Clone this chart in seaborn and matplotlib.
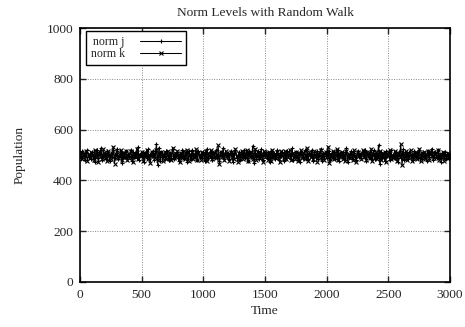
import numpy as np
import pandas as pd
import matplotlib
matplotlib.use("Agg")
import matplotlib.pyplot as plt
import seaborn as sns

time_step = 10
norm_j = [503, 488, 515, 496, 479, 508, 521, 492, 500, 484,
          511, 497, 473, 506, 519, 490, 502, 527, 481, 495,
          509, 486, 514, 499, 476, 505, 493, 518, 488, 501,
          524, 483, 497, 510, 470, 507, 492, 516, 485, 503,
          498, 520, 478, 512, 494, 506, 487, 531, 480, 501,
          496, 513, 474, 509, 491, 522, 485, 504, 497, 517,
          482, 506, 544, 461, 529, 476, 511, 493, 503, 486,
          515, 498, 479, 508, 490, 523, 484, 502, 496, 512,
          477, 505, 494, 519, 488, 501, 509, 472, 514, 497,
          485, 521, 499, 491, 507, 480, 516, 495, 503, 488,
          510, 476, 502, 525, 487, 498, 513, 482, 506, 494,
          519, 489, 500, 478, 511, 496, 527, 483, 504, 492,
          508, 486, 515, 499, 473, 506, 520, 490, 497, 512,
          481, 503, 495, 518, 487, 509, 476, 514, 500, 491,
          536, 468, 507, 494, 516, 485, 501, 522, 479, 505,
          496, 510, 488, 503, 474, 517, 493, 508, 484, 499,
          521, 482, 506, 497, 512, 477, 502, 489, 515, 495,
          504, 486, 526, 480, 498, 511, 492, 507, 471, 513,
          500, 487, 518, 494, 505, 483, 509, 497, 520, 478,
          503, 491, 514, 485, 499, 524, 476, 508, 495, 511,
          488, 502, 517, 481, 506, 493, 510, 484, 500, 519,
          475, 507, 496, 513, 489, 504, 528, 472, 501, 492,
          515, 486, 509, 498, 480, 516, 494, 503, 487, 512,
          497, 521, 478, 505, 491, 510, 483, 499, 518, 485,
          506, 494, 540, 464, 512, 489, 502, 476, 514, 496,
          508, 482, 519, 493, 501, 487, 511, 498, 474, 517,
          490, 505, 523, 481, 497, 509, 486, 513, 495, 502,
          479, 516, 492, 507, 488, 520, 500, 484, 511, 496,
          503, 477, 514, 491, 506, 525, 482, 499, 510, 487,
          518, 494, 501, 473, 508, 497, 512, 485, 504, 490,
          500]
norm_k = [492, 510, 483, 506, 498, 517, 476, 502, 489, 513,
          501, 480, 519, 494, 507, 471, 511, 496, 485, 522,
          490, 504, 477, 515, 499, 486, 509, 532, 466, 503,
          512, 488, 497, 520, 479, 506, 493, 514, 482, 500,
          487, 516, 495, 474, 508, 491, 523, 484, 502, 498,
          511, 478, 505, 493, 518, 486, 500, 470, 513, 496,
          504, 489, 521, 481, 507, 495, 512, 476, 499, 510,
          485, 517, 492, 503, 480, 526, 488, 506, 494, 515,
          498, 473, 509, 490, 514, 483, 502, 519, 477, 505,
          493, 511, 486, 500, 524, 479, 507, 496, 482, 513,
          502, 489, 516, 475, 508, 494, 520, 484, 499, 510,
          487, 503, 538, 463, 512, 491, 505, 480, 517, 495,
          500, 478, 511, 493, 506, 485, 522, 497, 472, 509,
          490, 515, 483, 504, 498, 519, 476, 507, 492, 512,
          486, 501, 525, 481, 496, 510, 488, 503, 474, 516,
          494, 508, 482, 513, 499, 477, 520, 491, 505, 487,
          511, 496, 471, 514, 502, 489, 517, 484, 507, 493,
          521, 480, 500, 509, 486, 512, 495, 476, 504, 518,
          490, 506, 483, 497, 527, 478, 510, 492, 501, 485,
          514, 498, 474, 508, 494, 519, 487, 503, 481, 511,
          496, 533, 467, 505, 490, 515, 484, 500, 522, 479,
          507, 493, 512, 486, 499, 475, 516, 491, 504, 488,
          509, 482, 518, 497, 473, 511, 495, 502, 485, 520,
          492, 506, 480, 513, 498, 487, 524, 477, 503, 494,
          510, 485, 500, 517, 479, 505, 491, 512, 474, 508,
          496, 521, 483, 501, 489, 514, 497, 476, 509, 493,
          542, 460, 506, 488, 515, 481, 502, 494, 519, 478,
          504, 490, 511, 486, 498, 523, 475, 507, 492, 513,
          484, 500, 516, 479, 508, 495, 510, 487, 503, 497,
          518, 482, 505, 491, 512, 476, 501, 494, 509, 488,
          499]
time = [i * time_step for i in range(len(norm_j))]
x_ticks = [0, 500, 1000, 1500, 2000, 2500, 3000]
y_ticks = [0, 200, 400, 600, 800, 1000]

sns.set_style("ticks")
plt.rcParams['font.family'] = ['Liberation Serif', 'DejaVu Serif']

fig = plt.figure(figsize=(4.65, 3.27), dpi=100)
ax = fig.add_axes([0.172, 0.138, 0.796, 0.776])

df_j = pd.DataFrame({"Time": time, "Population": norm_j})
df_k = pd.DataFrame({"Time": time, "Population": norm_k})
sns.lineplot(data=df_j, x="Time", y="Population", ax=ax, color="black",
             linewidth=0.75, marker="+", markersize=3.5, markeredgewidth=0.8,
             markeredgecolor="black", label="norm j")
sns.lineplot(data=df_k, x="Time", y="Population", ax=ax, color="black",
             linewidth=0.75, marker="x", markersize=2.8, markeredgewidth=0.8,
             markeredgecolor="black", label="norm k")

ax.set_xlim(0, 3000)
ax.set_ylim(0, 1000)
ax.set_xticks(x_ticks)
ax.set_yticks(y_ticks)
ax.grid(True, linestyle=(0, (1, 1.5)), color="#888888", linewidth=0.7)
ax.tick_params(direction="in", top=True, right=True, length=4, width=1,
               labelsize=9.6, pad=5)
for s in ax.spines.values():
    s.set_linewidth(1.2)
    s.set_color("black")
ax.set_xlabel("Time", fontsize=9.6, labelpad=3)
ax.set_ylabel("Population", fontsize=9.6, labelpad=15)
ax.set_title("Norm Levels with Random Walk", fontsize=9.6, pad=9)

leg = ax.legend(loc="upper left", bbox_to_anchor=(6 / 370, 1 - 3 / 254),
                borderaxespad=0, markerfirst=False, fontsize=8.6,
                frameon=True, fancybox=False, borderpad=0.4,
                labelspacing=0.05, handlelength=3.4, handletextpad=1.3)
leg.get_frame().set_edgecolor("black")
leg.get_frame().set_linewidth(1.0)
leg.get_frame().set_alpha(1)

fig.savefig("out.png", dpi=100)
